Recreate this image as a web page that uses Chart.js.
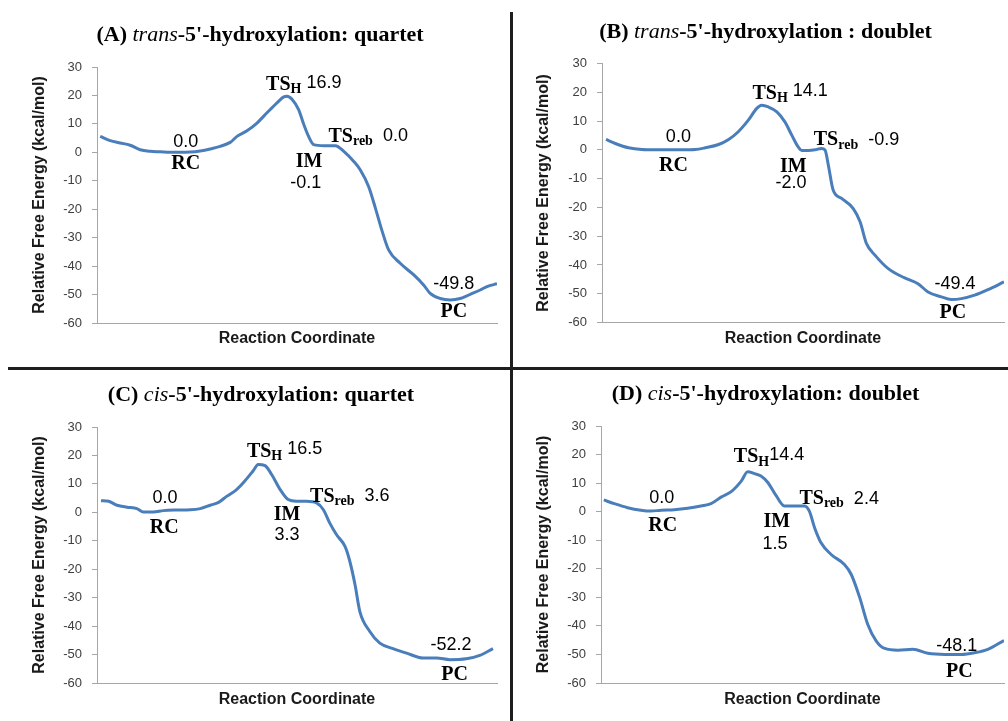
<!DOCTYPE html>
<html>
<head>
<meta charset="utf-8">
<script src="https://cdn.jsdelivr.net/npm/chart.js@4"></script>
<style>
  body { margin: 0; background: #fff; }
  #wrap { position: relative; width: 1008px; height: 721px; overflow: hidden; }
  canvas { position: absolute; }
  .rule { position: absolute; background: #1e1e1e; }
</style>
</head>
<body>
<div id="wrap">
  <canvas id="chartA" width="504" height="360" style="left:0;top:0"></canvas>
  <canvas id="chartB" width="504" height="360" style="left:504px;top:0"></canvas>
  <canvas id="chartC" width="504" height="361" style="left:0;top:360px"></canvas>
  <canvas id="chartD" width="504" height="361" style="left:504px;top:360px"></canvas>
  <div class="rule" style="left:510px;top:12px;width:3px;height:709px"></div>
  <div class="rule" style="left:8px;top:367px;width:1000px;height:3px"></div>
</div>
<script>
// reaction coordinate (arbitrary units 0-100) and relative free energy
const coordA = [0.8, 3.3, 5.8, 8.3, 10.8, 13.3, 15.8, 18.3, 20.8, 23.3, 25.8, 28.3, 30.8, 33.3, 35.0, 37.5, 40.0, 42.5, 45.0, 46.7, 47.5, 48.8, 50.4, 51.7, 52.9, 54.2, 56.7, 59.6, 61.7, 64.2, 65.8, 67.9, 69.6, 71.3, 72.9, 75.8, 79.2, 81.7, 83.3, 85.8, 88.3, 90.8, 93.3, 95.8, 97.5, 100];
const energyA = [5.6, 4.1, 3.3, 2.5, 0.9, 0.35, 0.2, 0, 0, 0.1, 0.5, 1.2, 2.1, 3.5, 5.6, 7.6, 10.3, 13.9, 17.4, 19.5, 19.7, 18.6, 15.0, 9.8, 5.6, 2.7, 2.35, 2.35, 0.35, -3.2, -6.1, -12.0, -19.6, -27.8, -34.3, -39.0, -43.1, -46.7, -49.6, -51.4, -51.9, -51.4, -49.9, -48.4, -47.2, -46.2];

const coordB = [1.0, 3.3, 6.6, 9.9, 13.2, 16.6, 19.9, 23.2, 25.7, 29.0, 31.5, 33.9, 36.4, 38.5, 39.7, 41.4, 43.5, 45.5, 47.2, 48.8, 49.7, 51.3, 53.0, 54.6, 55.5, 56.3, 57.5, 59.6, 62.5, 64.2, 65.8, 67.9, 71.2, 75.3, 78.6, 81.1, 84.4, 86.9, 89.4, 92.7, 96.0, 100];
const energyB = [3.6, 2.2, 0.7, 0.1, 0, 0, 0, 0.1, 0.7, 1.85, 3.6, 6.3, 10.3, 14.4, 15.5, 14.9, 13.2, 9.7, 5.1, 1.0, -0.2, -0.2, 0, 0.5, -0.1, -5.3, -14.0, -16.9, -20.4, -25.0, -32.6, -36.6, -41.3, -44.5, -46.5, -49.4, -51.1, -52.0, -51.7, -50.5, -48.6, -45.9];

const coordC = [1.0, 2.9, 5.0, 7.5, 10.0, 11.6, 14.1, 16.6, 20.0, 23.3, 25.8, 28.3, 30.4, 32.4, 34.9, 37.0, 39.1, 40.3, 42.0, 43.7, 45.8, 47.8, 49.9, 52.4, 54.9, 56.6, 58.2, 59.9, 62.0, 63.2, 64.5, 65.7, 68.2, 70.7, 74.0, 77.4, 81.5, 84.9, 88.2, 92.3, 95.7, 99.0];
const energyC = [4.1, 3.9, 2.5, 1.8, 1.3, 0.1, 0.1, 0.6, 0.8, 0.9, 1.3, 2.5, 3.5, 5.6, 8.0, 11.1, 14.7, 16.8, 16.4, 13.2, 8.0, 4.5, 3.9, 3.9, 3.3, 0.9, -3.8, -7.9, -12.0, -17.2, -25.4, -34.8, -41.9, -46.0, -47.9, -49.5, -51.2, -51.2, -51.8, -51.5, -50.3, -47.9];

const coordD = [0.7, 3.3, 6.6, 9.9, 12.4, 14.9, 18.2, 21.5, 24.8, 27.3, 29.8, 32.3, 34.8, 36.4, 38.1, 39.7, 41.4, 43.5, 45.5, 48.0, 50.5, 51.7, 53.0, 54.6, 57.1, 60.4, 62.1, 64.2, 66.2, 68.3, 70.4, 73.7, 77.4, 81.1, 85.3, 89.4, 92.7, 96.0, 100];
const energyD = [4.1, 2.8, 1.4, 0.5, 0.2, 0.5, 0.7, 1.2, 2.0, 2.8, 5.1, 7.0, 10.7, 14.0, 13.3, 12.5, 10.2, 5.5, 2.0, 2.0, 2.0, 0.2, -5.6, -10.9, -15.0, -18.5, -22.0, -30.1, -39.5, -45.3, -47.9, -48.5, -48.2, -49.6, -50.0, -50.0, -49.4, -48.2, -45.1];

// labelled stationary points (kcal/mol), panels A-D
const rcValues = [0.0, 0.0, 0.0, 0.0];
const tsHValues = [16.9, 14.1, 16.5, 14.4];
const imValues = [-0.1, -2.0, 3.3, 1.5];
const tsRebValues = [0.0, -0.9, 3.6, 2.4];
const pcValues = [-49.8, -49.4, -52.2, -48.1];

const yTicks = [30, 20, 10, 0, -10, -20, -30, -40, -50, -60];

const FONTS = {
  tb: 'bold 22px "Liberation Serif"',
  ti: 'italic 22px "Liberation Serif"',
  lab: 'bold 20px "Liberation Serif"',
  sub: 'bold 14px "Liberation Serif"',
  num: '18px "Liberation Sans"',
};
const SHIFT = { sub: 5 };

function drawRich(ctx, parts, cx, cy) {
  let w = 0;
  parts.forEach(p => { ctx.font = FONTS[p.f]; w += ctx.measureText(p.t).width; });
  let x = cx - w / 2;
  parts.forEach(p => {
    ctx.font = FONTS[p.f];
    ctx.fillText(p.t, x, cy + (SHIFT[p.f] || 0) + (p.dy || 0));
    x += ctx.measureText(p.t).width;
  });
}

const panelText = {
  id: 'panelText',
  afterDraw(chart, args, opts) {
    const { ctx } = chart;
    const sx = chart.scales.x, sy = chart.scales.y;
    ctx.save();
    ctx.fillStyle = '#000';
    ctx.textAlign = 'left';
    ctx.textBaseline = 'middle';
    drawRich(ctx, opts.title, opts.titleX, opts.titleY);
    opts.notes.forEach(n => drawRich(ctx, n.parts, sx.getPixelForValue(n.x), sy.getPixelForValue(n.y)));
    ctx.restore();
  }
};

const fmt = v => v.toFixed(1);

function notes(i, pos, gapH) {
  return [
    { x: pos.rc[0], y: pos.rc[1], parts: [{ t: fmt(rcValues[i]), f: 'num' }] },
    { x: pos.rcl[0], y: pos.rcl[1], parts: [{ t: 'RC', f: 'lab' }] },
    { x: pos.tsh[0], y: pos.tsh[1], parts: [{ t: 'TS', f: 'lab' }, { t: 'H', f: 'sub' }, { t: gapH + fmt(tsHValues[i]), f: 'num', dy: -2 }] },
    { x: pos.reb[0], y: pos.reb[1], parts: [{ t: 'TS', f: 'lab' }, { t: 'reb', f: 'sub' }, { t: '  ' + fmt(tsRebValues[i]), f: 'num' }] },
    { x: pos.iml[0], y: pos.iml[1], parts: [{ t: 'IM', f: 'lab' }] },
    { x: pos.im[0], y: pos.im[1], parts: [{ t: fmt(imValues[i]), f: 'num' }] },
    { x: pos.pc[0], y: pos.pc[1], parts: [{ t: fmt(pcValues[i]), f: 'num' }] },
    { x: pos.pcl[0], y: pos.pcl[1], parts: [{ t: 'PC', f: 'lab' }] },
  ];
}

function makeChart(id, xs, ys, box, title, titlePos, noteList) {
  const points = xs.map((x, k) => ({ x: x, y: ys[k] }));
  return new Chart(document.getElementById(id), {
    type: 'line',
    data: {
      datasets: [{
        data: points,
        borderColor: '#4a7ebb',
        borderWidth: 3,
        pointRadius: 0,
        cubicInterpolationMode: 'monotone',
        fill: false,
      }],
    },
    options: {
      responsive: false,
      animation: false,
      layout: { padding: { top: box.top, right: box.right, bottom: 0, left: 0 } },
      plugins: {
        legend: { display: false },
        tooltip: { enabled: false },
        panelText: { title: title, titleX: titlePos[0], titleY: titlePos[1], notes: noteList },
      },
      scales: {
        x: {
          type: 'linear',
          min: 0,
          max: 100,
          ticks: { display: false },
          grid: { display: false },
          border: { display: true, color: '#a6a6a6', width: 1 },
          title: {
            display: true,
            text: 'Reaction Coordinate',
            color: '#1a1a1a',
            font: { family: 'Liberation Sans', size: 16, weight: 'bold' },
            padding: { top: 0, bottom: 12 },
          },
          afterFit: s => { s.height = box.xh; },
        },
        y: {
          min: -60,
          max: 30,
          afterBuildTicks: s => { s.ticks = yTicks.map(v => ({ value: v })); },
          ticks: {
            color: '#404040',
            padding: 10,
            font: { family: 'Liberation Sans', size: 13 },
          },
          grid: { drawOnChartArea: false, drawTicks: true, tickLength: 5, color: '#a6a6a6' },
          border: { display: true, color: '#a6a6a6', width: 1 },
          title: {
            display: true,
            text: 'Relative Free Energy (kcal/mol)',
            color: '#1a1a1a',
            font: { family: 'Liberation Sans', size: 16, weight: 'bold' },
            padding: { top: 30, bottom: 0 },
          },
          afterFit: s => { s.width = box.yw; },
        },
      },
    },
    plugins: [panelText],
  });
}

makeChart('chartA', coordA, energyA,
  { top: 67, right: 7, yw: 97, xh: 37 },
  [{ t: '(A) ', f: 'tb' }, { t: 'trans', f: 'ti' }, { t: "-5'-hydroxylation: quartet", f: 'tb' }], [260, 35],
  notes(0, { rc: [22.2, 3.6], rcl: [22.2, -4.2], tsh: [51.7, 23.8], reb: [67.8, 5.6], iml: [53.0, -3.3], im: [52.2, -10.8], pc: [89.2, -46.2], pcl: [89.2, -56.0] }, ' '));

makeChart('chartB', coordB, energyB,
  { top: 63.5, right: 4, yw: 98, xh: 37.5 },
  [{ t: '(B) ', f: 'tb' }, { t: 'trans', f: 'ti' }, { t: "-5'-hydroxylation : doublet", f: 'tb' }], [261.5, 32],
  notes(1, { rc: [19.0, 4.5], rcl: [17.8, -5.6], tsh: [46.8, 19.6], reb: [63.3, 3.4], iml: [47.6, -5.9], im: [47.0, -11.7], pc: [87.8, -46.8], pcl: [87.3, -56.6] }, ' '));

makeChart('chartC', coordC, energyC,
  { top: 67, right: 7, yw: 97, xh: 38 },
  [{ t: '(C) ', f: 'tb' }, { t: 'cis', f: 'ti' }, { t: "-5'-hydroxylation: quartet", f: 'tb' }], [261, 35],
  notes(2, { rc: [17.0, 5.0], rcl: [16.8, -5.5], tsh: [46.9, 21.4], reb: [63.2, 5.6], iml: [47.5, -0.8], im: [47.5, -7.9], pc: [88.5, -46.7], pcl: [89.4, -57.1] }, ' '));

makeChart('chartD', coordD, energyD,
  { top: 66, right: 4, yw: 97, xh: 38 },
  [{ t: '(D) ', f: 'tb' }, { t: 'cis', f: 'ti' }, { t: "-5'-hydroxylation: doublet", f: 'tb' }], [261.5, 34],
  notes(3, { rc: [15.1, 4.8], rcl: [15.3, -5.1], tsh: [41.7, 19.1], reb: [59.1, 4.5], iml: [43.6, -3.6], im: [43.2, -11.2], pc: [88.3, -46.9], pcl: [88.9, -56.2] }, ''));
</script>
</body>
</html>
